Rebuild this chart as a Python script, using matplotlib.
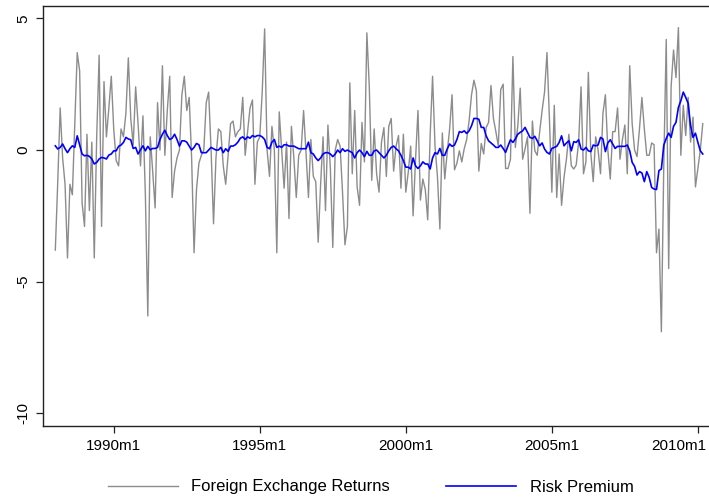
import numpy as np
import matplotlib
matplotlib.use("Agg")
import matplotlib.pyplot as plt
import matplotlib.transforms as mtransforms

plt.rcParams["font.family"] = ["Liberation Sans", "DejaVu Sans"]

# monthly observations, 1988m1 .. 2010m3
START_YEAR = 1988

fx_returns = [
    -3.8, -1.2, 1.6, -0.3, -1.3, -4.1, -1.3, -1.7, 1.0, 3.7, 3.0, -2.0,      # 1988
    -2.9, 0.6, -2.3, 0.3, -4.1, 0.5, 3.6, -2.9, 2.6, 0.5, 1.6, 2.8,          # 1989
    0.8, -0.4, -0.6, 0.8, 0.5, 1.4, 3.5, 1.2, 0.2, 2.4, 1.0, -0.6,           # 1990
    1.3, -1.7, -6.3, 0.5, -0.8, -2.2, 1.8, 0.0, 3.2, -0.2, 1.5, 2.8,         # 1991
    -1.8, -0.8, -0.3, 0.0, 2.1, 2.8, 1.5, 2.0, -0.3, -3.9, -1.5, -0.5,       # 1992
    -0.2, 0.0, 1.8, 2.2, 0.0, -2.8, -0.3, 0.8, 0.7, -0.6, -1.3, -0.2,        # 1993
    1.0, 1.1, 0.5, 0.7, 0.8, 2.0, -0.2, 0.7, 1.6, 1.9, -1.3, 0.3,            # 1994
    0.5, 2.2, 4.6, 0.0, -1.0, 0.9, 0.0, -3.9, 1.45, 0.0, -1.45, 0.3,         # 1995
    -2.6, 0.9, -0.3, -1.8, -0.2, 0.0, 1.5, -0.1, -1.8, 0.4, -1.0, -1.2,      # 1996
    -3.5, -1.3, 0.5, -2.3, 0.95, -0.7, -3.7, 0.0, 0.4, 0.15, -1.6, -3.6,     # 1997
    -2.9, 2.55, -0.9, 1.5, -1.4, -2.1, 1.05, -0.45, 4.45, 2.4, -1.15, 0.8,   # 1998
    -0.9, -1.6, 0.3, 0.85, -1.0, 0.9, 1.2, -0.8, 0.15, 0.55, -1.45, 0.6,     # 1999
    -1.6, -0.85, 0.15, -2.5, -0.35, 1.5, -1.9, -1.1, -1.5, -2.65, 0.55, 2.8, # 2000
    0.15, -1.0, -3.0, 0.65, -1.1, -0.1, 0.8, 2.1, -0.75, -0.5, -0.03, -0.45, # 2001
    0.05, 0.4, 1.1, 2.1, 2.65, 2.25, -0.8, 0.25, -0.15, 0.85, 1.05, 2.45,    # 2002
    1.2, 0.7, 0.15, 2.3, 2.5, -0.7, -0.7, -0.35, 3.55, 0.1, 0.9, 2.35,       # 2003
    -0.35, 0.05, 0.5, -2.4, 1.1, -0.03, -0.2, 0.7, 1.5, 2.2, 3.7, 1.2,       # 2004
    -1.6, 1.7, -1.8, -0.15, -2.1, -1.04, -0.34, 0.6, -0.6, -0.72, -0.57, 0.3,  # 2005
    2.4, -0.9, -0.45, 2.95, -0.1, -1.2, 0.5, 0.0, -0.9, 1.4, 2.1, 0.0,       # 2006
    -1.1, 0.7, 0.7, 1.6, -0.35, 0.4, 0.95, -0.9, 3.2, 1.0, 0.0, -0.25,       # 2007
    0.8, 2.0, 0.8, -0.2, -0.2, 0.27, 0.2, -3.9, -3.0, -6.9, -0.5, 4.2,       # 2008
    -4.5, 2.4, 3.8, 2.75, 4.65, -0.2, 1.7, 0.55, 2.0, 0.3, 1.25, -1.4,       # 2009
    -0.7, 0.0, 1.0,                                                          # 2010
]

risk_premium = [
    0.16, 0.04, 0.1, 0.23, 0.05, -0.1, 0.05, 0.16, 0.1, 0.54, 0.2, -0.15,
    -0.22, -0.2, -0.24, -0.34, -0.53, -0.47, -0.34, -0.28, -0.3, -0.34, -0.19, -0.15,
    -0.03, -0.03, 0.14, 0.19, 0.29, 0.48, 0.42, 0.39, 0.06, 0.1, -0.15, 0.01,
    0.16, -0.03, 0.14, 0.01, 0.06, 0.06, 0.1, 0.4, 0.6, 0.75, 0.55, 0.4,
    0.45, 0.6, 0.4, 0.15, 0.35, 0.35, 0.3, 0.15, 0.0, 0.1, 0.25, 0.2,
    -0.1, -0.1, -0.1, 0.0, 0.1, 0.05, 0.0, 0.0, 0.1, -0.1, 0.05, -0.05,
    0.15, 0.15, 0.2, 0.3, 0.45, 0.5, 0.4, 0.5, 0.45, 0.55, 0.5, 0.55,
    0.55, 0.5, 0.4, 0.1, 0.05, 0.3, 0.4, 0.1, 0.15, 0.1, 0.2, 0.2,
    0.15, 0.15, 0.15, 0.1, 0.05, 0.05, 0.05, 0.05, 0.3, -0.1, -0.15, -0.3,
    -0.4, -0.3, -0.15, -0.1, -0.1, -0.15, -0.25, -0.15, 0.0, -0.1, 0.05, -0.05,
    0.0, -0.05, -0.1, -0.3, -0.1, 0.0, -0.1, -0.25, -0.05, -0.2, -0.2, -0.03,
    0.0, -0.1, -0.2, -0.3, -0.2, -0.03, 0.1, 0.15, 0.05, -0.03, -0.2, -0.4,
    -0.65, -0.65, -0.72, -0.3, -0.6, -0.7, -0.6, -0.45, -0.53, -0.53, -0.72, -0.3,
    -0.1, -0.15, 0.06, -0.2, -0.2, 0.04, 0.23, 0.14, 0.19, 0.4, 0.7, 0.67,
    0.73, 0.63, 0.73, 0.92, 1.2, 1.2, 1.17, 0.86, 0.86, 0.54, 0.35, 0.27,
    0.19, 0.1, 0.1, 0.19, 0.06, -0.09, 0.16, 0.39, 0.29, 0.42, 0.6, 0.67,
    0.73, 0.86, 0.67, 0.48, 0.44, 0.52, 0.35, 0.16, 0.27, 0.04, -0.09, -0.15,
    0.06, 0.1, 0.14, 0.29, 0.54, 0.16, 0.27, 0.35, -0.03, 0.32, 0.29, 0.39,
    0.04, 0.0, 0.1, -0.03, -0.06, 0.19, 0.16, 0.19, 0.48, 0.42, -0.06, 0.27,
    0.39, 0.23, 0.06, 0.14, 0.14, 0.14, 0.14, 0.19, -0.03, -0.47, -0.62, -0.95,
    -0.82, -0.87, -1.2, -0.82, -1.04, -1.42, -1.48, -1.5, -0.78, -0.72, 0.19, 0.44,
    0.64, 0.48, 0.9, 1.05, 1.62, 1.87, 2.2, 2.0, 1.77, 0.92, 0.48, 0.64,
    0.29, -0.03, -0.15,
]

tick_years = [1990, 1995, 2000, 2005, 2010]
y_ticks = [5, 0, -5, -10]

months = np.arange(len(fx_returns))
x_tick_pos = [(y - START_YEAR) * 12 for y in tick_years]
x_tick_lab = [f"{y}m1" for y in tick_years]

fig = plt.figure(figsize=(7.09, 4.97), dpi=100)
# right edge of the plot region lies just past the picture, as in the cropped original
ax = fig.add_axes([43 / 709, 1 - 426 / 497, (712 - 43) / 709, (426 - 6) / 497])

ax.plot(months, fx_returns, color="#8c8c8c", lw=1.0, label="Foreign Exchange Returns")
ax.plot(months, risk_premium, color="#0000ff", lw=1.2, label="Risk Premium")

ax.set_xlim(-5.06, 269.8)
ax.set_ylim(-10.48, 5.47)

ax.set_xticks(x_tick_pos)
ax.set_xticklabels(x_tick_lab, fontsize=11)
ax.set_yticks(y_ticks)
ax.set_yticklabels([str(v) for v in y_ticks], fontsize=11, rotation=90, va="center")

ax.tick_params(direction="out", length=5, width=0.9, color="#222222", pad=4)
for s in ax.spines.values():
    s.set_color("#222222")
    s.set_linewidth(1.0)

# last label is pulled inside the picture
last = ax.get_xticklabels()[-1]
last.set_horizontalalignment("right")
last.set_transform(last.get_transform() +
                   mtransforms.ScaledTranslation(8 / 100, 0, fig.dpi_scale_trans))

fig.legend(loc="center", bbox_to_anchor=(0.5226, 1 - 487 / 497), ncol=2,
           frameon=False, fontsize=12, handlelength=4.2, handletextpad=0.8,
           columnspacing=3.4)

fig.savefig("out.png", dpi=100)
